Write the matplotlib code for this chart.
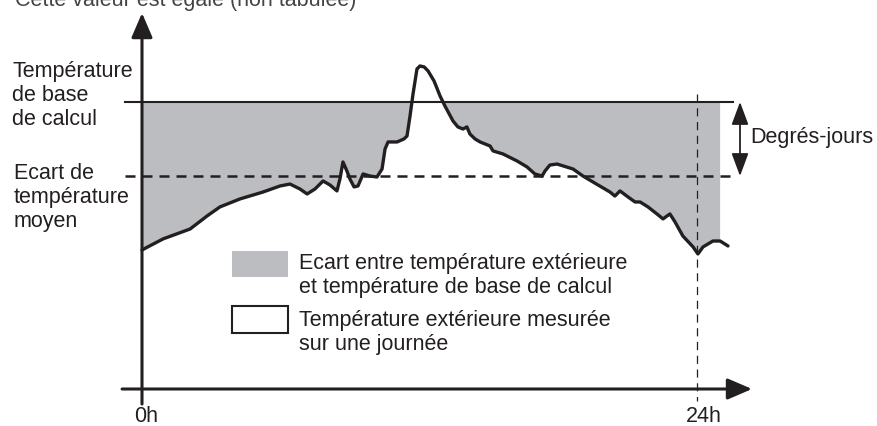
import numpy as np
import matplotlib.pyplot as plt
from matplotlib.patches import Rectangle

# heures de la journee et temperature exterieure mesuree (unites arbitraires)
hours = [0, 0.91, 2.08, 2.81, 3.37, 4.24, 5.23, 5.97, 6.40, 6.83, 7.14, 7.48, 7.83, 8.13,
         8.43, 8.56, 8.69, 8.86, 8.99, 9.17, 9.34, 9.56, 9.86, 10.16, 10.38, 10.51, 10.64,
         11.03, 11.33, 11.46, 11.59, 11.72, 11.89, 12.02, 12.20, 12.37, 12.63, 12.89, 13.10,
         13.45, 13.66, 13.88, 14.05, 14.18, 14.40, 14.62, 15.05, 15.18, 15.61, 16.22, 16.65,
         16.99, 17.30, 17.43, 17.64, 17.95, 18.64, 19.07, 19.50, 20.24, 20.45, 20.67, 21.02,
         21.32, 21.54, 21.88, 22.27, 22.53, 22.70, 22.83, 23.05, 23.39, 23.83, 24.04, 24.26,
         24.69, 25.0, 25.34]
temps = [8.69, 9.38, 10.0, 10.81, 11.38, 11.88, 12.31, 12.69, 12.81, 12.5, 12.19, 12.5, 13.0,
         12.75, 12.38, 13.13, 14.19, 13.63, 13.13, 12.63, 12.69, 13.44, 13.31, 13.25, 13.75,
         15.0, 15.44, 15.44, 15.63, 15.81, 17.06, 18.44, 20.0, 20.19, 20.13, 19.88, 19.25,
         18.31, 17.69, 16.75, 16.38, 16.25, 16.38, 15.94, 15.63, 15.44, 15.19, 14.88, 14.69,
         14.25, 13.88, 13.44, 13.31, 13.63, 14.0, 14.06, 13.75, 13.31, 12.94, 12.31, 12.06,
         12.38, 12.0, 11.69, 11.69, 11.38, 10.94, 10.63, 10.81, 10.94, 10.44, 9.56, 8.88,
         8.44, 8.88, 9.25, 9.25, 8.94]
t_base = 17.94
t_mean = 13.31
x_labels = ["0h", "24h"]

hours = np.array(hours)
temps = np.array(temps)

black = "#231f20"
grey = "#bcbdc0"
plt.rcParams["font.family"] = ["Liberation Sans", "DejaVu Sans"]
fs = 15.5

fig = plt.figure(figsize=(8.77, 4.27), dpi=100)
ax = fig.add_axes([0, 0, 1, 1])
ax.set_xlim(-6.1405, 31.784)
ax.set_ylim(-2.3125, 24.375)
ax.axis("off")

# surface des degres-jours
fill_part = hours <= 25.05
ax.fill_between(hours[fill_part], temps[fill_part], t_base, where=temps[fill_part] < t_base,
                interpolate=True, color=grey, lw=0, zorder=1)

ax.plot([-0.74, 25.56], [t_base, t_base], color=black, lw=1.5, zorder=2)
ax.plot([-0.74, 25.56], [t_mean, t_mean], color=black, lw=1.8, dashes=(4, 2.8), zorder=2)
ax.plot([24, 24], [18.44, -0.75], color=black, lw=0.9, dashes=(6.5, 4.5), zorder=2)

ax.plot(hours, temps, color=black, lw=2.4, solid_joinstyle="round", solid_capstyle="round", zorder=3)

# axes avec fleches
ax.annotate("", xy=(0, 23.5), xytext=(0, -0.94),
            arrowprops=dict(arrowstyle="-|>,head_length=1.0,head_width=0.43", lw=2.2, color=black,
                            shrinkA=0, shrinkB=0, mutation_scale=15), zorder=4)
ax.annotate("", xy=(26.38, 0), xytext=(-0.86, 0),
            arrowprops=dict(arrowstyle="-|>,head_length=1.0,head_width=0.43", lw=2.2, color=black,
                            shrinkA=0, shrinkB=0, mutation_scale=15), zorder=4)
ax.annotate("", xy=(25.86, t_base), xytext=(25.86, t_mean),
            arrowprops=dict(arrowstyle="<|-|>,head_length=1.4,head_width=0.52", lw=1.3, color=black,
                            shrinkA=0, shrinkB=0, mutation_scale=10), zorder=4)

ax.text(26.3, 15.44, "Degrés-jours", fontsize=fs, color=black, va="baseline", ha="left")

ax.text(-5.62, 20.56, "Température\nde base\nde calcul", fontsize=fs, color=black,
        va="top", ha="left", linespacing=1.2)
ax.text(-5.55, 14.19, "Ecart de\ntempérature\nmoyen", fontsize=fs, color=black, va="top",
        ha="left", linespacing=1.2)

ax.text(-0.35, -2.0, x_labels[0], fontsize=fs, color=black, va="baseline", ha="left")
ax.text(23.52, -2.0, x_labels[1], fontsize=fs, color=black, va="baseline", ha="left")

# legende
ax.add_patch(Rectangle((3.89, 7.0), 2.43, 1.625, facecolor=grey, edgecolor="none", zorder=2))
ax.add_patch(Rectangle((3.89, 3.5), 2.43, 1.69, facecolor="white", edgecolor=black, lw=1.5, zorder=2))
ax.text(6.79, 8.56, "Ecart entre température extérieure\net température de base de calcul",
        fontsize=fs, color=black, va="top", ha="left", linespacing=1.2)
ax.text(6.79, 5.0, "Température extérieure mesurée\nsur une journée",
        fontsize=fs, color=black, va="top", ha="left", linespacing=1.2)

# titre coupe en haut de l'image
ax.text(-5.49, 24.0, "Cette valeur est égale (non tabulée)", fontsize=fs, color="#444444",
        va="baseline", ha="left")

plt.savefig("out.png", dpi=100)
